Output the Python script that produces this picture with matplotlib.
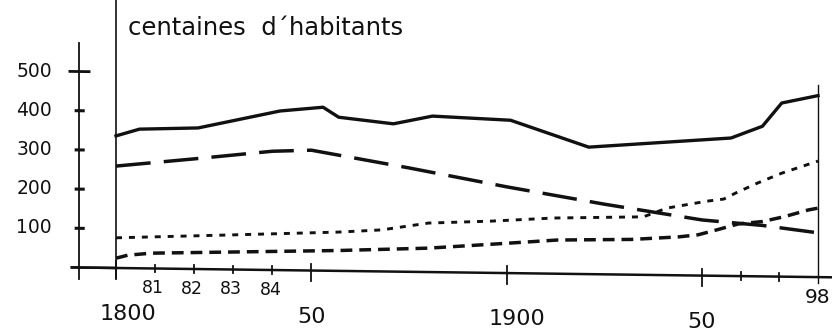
import numpy as np
import matplotlib
matplotlib.use('Agg')
import matplotlib.pyplot as plt
from matplotlib.transforms import Affine2D

plt.rcParams['font.family'] = 'DejaVu Sans'
plt.rcParams['lines.scale_dashes'] = False

# Population totale (trait plein)
annees_total = [1800, 1806, 1821, 1842, 1853, 1857, 1871, 1881, 1901, 1921, 1962, 1975, 1983, 1998]
total = [337, 355, 360, 406, 417, 392, 377, 398, 390, 324, 352, 383, 443, 463]

# Grands tirets
annees_tirets = [1800, 1820, 1840, 1850, 1875, 1900, 1925, 1950, 1975, 1998]
tirets = [260, 281, 303, 307, 265, 220, 179, 142, 130, 113]

# Pointillés
annees_points = [1800, 1829, 1857, 1868, 1880, 1896, 1912, 1935, 1941, 1952, 1959, 1964, 1973, 1983, 1998]
points = [77, 88, 99, 106, 125, 132, 142, 148, 171, 190, 196, 212, 238, 264, 296]

# Petits tirets
annees_petits = [1800, 1803, 1809, 1857, 1880, 1900, 1913, 1932, 1944, 1949, 1956, 1965, 1975, 1984, 1994, 1998]
petits = [25, 33, 39, 52, 61, 76, 86, 90, 98, 104, 117, 133, 140, 153, 171, 176]

# Graduations
y_ticks = [100, 200, 300, 400, 500]
x_majeurs = [1800, 1850, 1900, 1950]
x_mineurs = [1810, 1820, 1830, 1840, 1966, 1982]
dizaines = [1810, 1820, 1830, 1840]
dizaines_labels = ['81', '82', '83', '84']
grands_labels = ['1800', '50', '1900', '50']
grands_pos = [1803, 1850, 1902.6, 1950]

# après 1950 l'axe est resserré
K = 0.6185


def vers_axe(x):
    x = np.asarray(x, dtype=float)
    return np.where(x <= 1950, x, 1950 + (x - 1950) * K)


def depuis_axe(u):
    u = np.asarray(u, dtype=float)
    return np.where(u <= 1950, u, 1950 + (u - 1950) / K)


fig = plt.figure(figsize=(8.32, 3.34), dpi=100)
ax = fig.add_axes([0, 0, 1, 1])
ax.set_xscale('function', functions=(vers_axe, depuis_axe))
ax.set_xlim(1770.3, 2003.8)
ax.set_ylim(-168.4, 683.7)
ax.axis('off')

# le dessin penche un peu vers le bas à droite
pente = 0.013
penche = ax.transData + Affine2D(np.array([[1, 0, 0], [-pente, 1, pente * 116], [0, 0, 1]]))

noir = '#111111'

# courbes
ax.plot(annees_total, total, color=noir, lw=2.4, solid_joinstyle='round', transform=penche)
ax.plot(annees_tirets, tirets, color=noir, lw=2.5, dashes=(25, 9.5), transform=penche)
ax.plot(annees_petits, petits, color=noir, lw=2.5, dashes=(8.5, 5), transform=penche)
ax.plot(annees_points, points, color=noir, lw=2.1, dashes=(4.3, 5), transform=penche)

# axe des x
ax.plot([1788.7, 2003.8], [0, 0], color=noir, lw=1.8, transform=penche)
for x in x_majeurs:
    ax.plot([x, x], [17, -27], color=noir, lw=1.3, transform=penche)
for x in x_mineurs:
    ax.plot([x, x], [10, -10], color=noir, lw=1.3, transform=penche)

# traits verticaux 1800 et 1998
ax.plot([1800, 1800], [683.7, -25], color=noir, lw=1.2, transform=penche)
ax.plot([1998, 1998], [490, -15], color=noir, lw=1.0, transform=penche)

# axe des y
x_axe_y = 1790.5
ax.plot([x_axe_y, x_axe_y], [574, -30], color=noir, lw=1.3, transform=penche)
ax.plot([1788.7, 1800], [0, 0], color=noir, lw=1.8, transform=penche)
for y in y_ticks:
    if y == 500:
        ax.plot([1788.2, 1793.1], [y, y], color=noir, lw=2.0, transform=penche)
    else:
        ax.plot([1789.8, 1791.6], [y, y], color=noir, lw=2.2, transform=penche)
    ax.text(1783.6, y, str(y), ha='right', va='center', fontsize=13.5, color=noir, transform=penche)

# étiquettes des années
for x, lab in zip(dizaines, dizaines_labels):
    ax.text(x - 0.5, -50, lab, ha='center', va='center', fontsize=12.5, color=noir, transform=penche)
for x, lab in zip(grands_pos, grands_labels):
    ax.text(x, -118, lab, ha='center', va='center', fontsize=16, color=noir, transform=penche)
ax.text(1998, -51, '98', ha='center', va='center', fontsize=14.5, color=noir, transform=penche)

# titre
fig.text(128 / 832, 1 - 35 / 334, 'centaines  d´habitants', ha='left', va='baseline',
         fontsize=17.5, color=noir)

fig.savefig('out.png', dpi=100)
